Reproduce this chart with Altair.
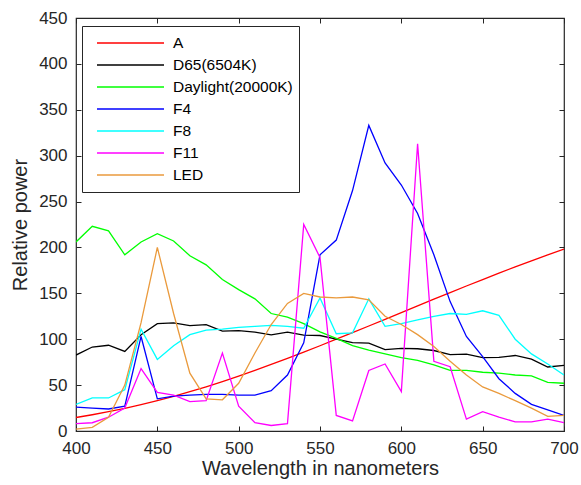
import altair as alt
import pandas as pd

wavelength = list(range(400, 701, 10))
A = [14.7, 17.7, 21.0, 24.7, 28.7, 33.1, 37.8, 42.9, 48.2, 53.9, 59.9, 66.1, 72.5, 79.1, 85.9,
     92.9, 100.0, 107.2, 114.4, 121.7, 129.0, 136.3, 143.6, 150.8, 158.0, 165.0, 172.0, 178.8,
     185.4, 191.9, 198.3]
D65 = [82.75, 91.49, 93.43, 86.68, 104.86, 117.01, 117.81, 114.86, 115.92, 108.81, 109.35,
       107.80, 104.79, 107.69, 104.41, 104.05, 100.0, 96.33, 95.79, 88.69, 90.01, 89.60, 87.70,
       83.29, 83.70, 80.03, 80.21, 82.28, 78.28, 69.72, 71.61]
daylight = [206, 223, 218, 192, 206, 215, 207, 191, 181, 165, 154, 144, 128, 124, 117, 108, 101,
            93, 88, 84, 80, 77, 72, 66, 66, 64, 63, 61, 60, 53, 52]
F4 = [26, 25, 24, 27, 103, 35, 38, 39, 40, 40, 39, 39, 44, 61, 96, 192, 208, 262, 333, 292, 268,
      237, 192, 141, 103, 81, 57, 41, 29, 23, 17]
F8 = [29, 36, 36, 45, 111, 78, 93, 105, 110, 111, 113, 114, 115, 114, 112, 145, 106, 107, 144,
      114, 117, 121, 125, 128, 127, 131, 126, 100, 84, 73, 61]
F11 = [8, 9, 15, 25, 68, 42, 39, 32, 33, 85, 27, 9, 6, 8, 225, 189, 17, 11, 66, 73, 43, 313, 76,
       70, 13, 21, 15, 10, 10, 13, 9]
LED = [2, 4, 15, 50, 118, 200, 128, 63, 35, 34, 52, 85, 116, 139, 150, 146, 145, 146, 143, 125,
       116, 105, 92, 76, 61, 48, 41, 33, 25, 16, 17]

names = ["A", "D65(6504K)", "Daylight(20000K)", "F4", "F8", "F11", "LED"]
series = [A, D65, daylight, F4, F8, F11, LED]
colors = ["#ff0000", "#000000", "#00ff00", "#0000ff", "#00ffff", "#ff00ff", "#ea9a3c"]

x_ticks = [400, 450, 500, 550, 600, 650, 700]
y_ticks = [0, 50, 100, 150, 200, 250, 300, 350, 400, 450]

rows = []
for i, (n, vals) in enumerate(zip(names, series)):
    for w, v in zip(wavelength, vals):
        rows.append({"wavelength": w, "power": v, "source": n, "k": i})
df = pd.DataFrame(rows)

FONT = "Liberation Sans"
TXT = "#262626"

xscale = alt.Scale(domain=[400, 700], nice=False, zero=False)
yscale = alt.Scale(domain=[0, 450], nice=False)

lines = alt.Chart(df).mark_line(strokeWidth=1.3, clip=True).encode(
    x=alt.X("wavelength:Q", scale=xscale,
            axis=alt.Axis(values=x_ticks, title="Wavelength in nanometers", orient="bottom",
                          domain=False, ticks=True, tickSize=5, offset=-5, tickColor=TXT,
                          labelFlush=False, labelOverlap=False,
                          labelPadding=9, labelFontSize=17, titleFontSize=20, titlePadding=2,
                          grid=False)),
    y=alt.Y("power:Q", scale=yscale,
            axis=alt.Axis(values=y_ticks, title="Relative power", orient="left",
                          domain=False, ticks=True, tickSize=5, offset=-5, tickColor=TXT,
                          labelFlush=False, labelOverlap=False,
                          labelPadding=9, labelFontSize=17, titleFontSize=20, titlePadding=8,
                          grid=False)),
    color=alt.Color("source:N", scale=alt.Scale(domain=names, range=colors),
                    legend=alt.Legend(title=None, orient="none", legendX=6, legendY=8,
                                      symbolType="stroke", symbolSize=4489,
                                      symbolStrokeWidth=1.3, clipHeight=22, rowPadding=0,
                                      labelFont=FONT, labelFontSize=15.5, labelColor="#000000",
                                      labelExpr="datum.label + '\u00a0\u00a0'",
                                      strokeColor=TXT, fillColor="white", padding=6,
                                      symbolOffset=8, labelOffset=8)),
    order=alt.Order("k:Q"),
)

frame = alt.Chart(df).mark_line(opacity=0).encode(
    x=alt.X("wavelength:Q", scale=xscale,
            axis=alt.Axis(values=x_ticks, title=None, orient="top", labels=False,
                          domain=False, ticks=True, tickSize=5, offset=-5, tickColor=TXT,
                          grid=False)),
    y=alt.Y("power:Q", scale=yscale,
            axis=alt.Axis(values=y_ticks, title=None, orient="right", labels=False,
                          domain=False, ticks=True, tickSize=5, offset=-5, tickColor=TXT,
                          grid=False)),
    detail="source:N",
)

chart = alt.layer(lines, frame).resolve_axis(x="independent", y="independent").properties(
    width=488, height=413,
    autosize=alt.AutoSizeParams(type="none"),
    padding={"left": 76, "top": 18, "right": 17, "bottom": 54},
    background="white",
).configure_view(stroke=TXT, strokeWidth=1.2).configure_axis(
    labelFont=FONT, titleFont=FONT, labelColor=TXT, titleColor=TXT, titleFontWeight="normal"
)

chart.save("out.html", embed_options={"renderer": "svg", "actions": False})
